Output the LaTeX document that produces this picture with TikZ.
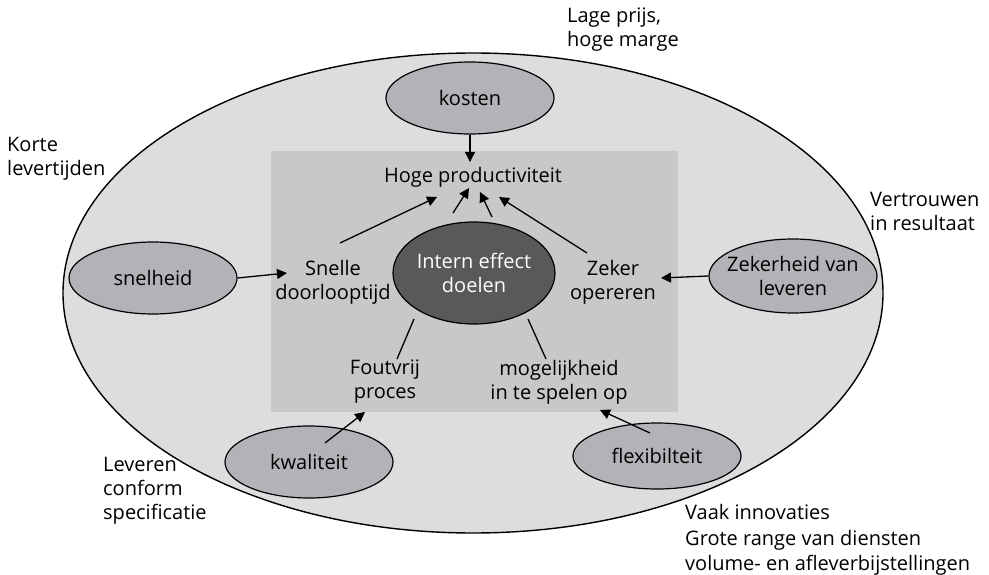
\documentclass[tikz,border=0pt]{standalone}
\usepackage{fontspec}
\setmainfont{Open Sans}
\usetikzlibrary{shapes.geometric,arrows.meta}

\definecolor{outerfill}{HTML}{DCDDDF}
\definecolor{boxfill}{HTML}{C7C8CA}
\definecolor{aimfill}{HTML}{B1B3B6}
\definecolor{corefill}{HTML}{58595B}

\tikzset{
  base/.style={font=\fontsize{20}{24}\selectfont, text=black},
  world/.style={ellipse, draw=black, line width=1.4pt, fill=outerfill, inner sep=0pt},
  aim/.style={ellipse, draw=black, line width=1.2pt, fill=aimfill, inner sep=0pt,
    minimum width=168pt, minimum height=72pt, base, align=center},
  core/.style={ellipse, draw=black, line width=1.2pt, fill=corefill, inner sep=0pt,
    minimum width=162pt, minimum height=102pt, base, text=white, align=center},
  effect/.style={base, align=center, inner sep=0pt},
  remark/.style={base, align=left, anchor=west, inner sep=0pt},
  link/.style={line width=1.3pt, draw=black},
  arrow/.style={link, -{Triangle[length=10pt,width=10pt]}},
}

\begin{document}
\begin{tikzpicture}[x=1pt,y=-1pt]
\useasboundingbox (0,0) rectangle (989,575);
\fill[white] (0,0) rectangle (989,575);

% outer field and inner block
\node[world, minimum width=820pt, minimum height=480pt] (field) at (473,293) {};
\fill[boxfill] (271,151) rectangle (678,412);

% performance objectives
\node[aim] (kosten) at (470,98) {kosten};
\node[aim] (snelheid) at (153,278) {snelheid};
\node[aim, minimum height=74pt, inner xsep=-12pt, inner ysep=-4pt] (zekerheid) at (793,276) {Zekerheid van\\leveren};
\node[aim] (kwaliteit) at (309,462) {kwaliteit};
\node[aim, minimum height=66pt] (flex) at (657,456) {flexibilteit};

% internal effects
\node[core, inner xsep=-6pt] (intern) at (474,273) {Intern effect\\doelen};
\node[effect] (hoge) at (473,177) {Hoge productiviteit};
\node[effect] (snelle) at (333,282) {Snelle\\doorlooptijd};
\node[effect] (zeker) at (613,282) {Zeker\\opereren};
\node[effect] (fout) at (385,382) {Foutvrij\\proces};
\node[effect] (mogelijk) at (559,382) {mogelijkheid\\in te spelen op};

% external remarks
\node[remark] (prijs) at (567,30) {Lage prijs,\\hoge marge};
\node[remark] (korte) at (7,159) {Korte\\levertijden};
\node[remark] (vertrouwen) at (870,211) {Vertrouwen\\in resultaat};
\node[remark] (leveren) at (103,491) {Leveren\\conform\\specificatie};
\node[remark, font=\fontsize{20}{25.5}\selectfont] (vaak) at (685,540) {Vaak innovaties\\Grote range van diensten\\volume- en afleverbijstellingen};

% arrow end points
\coordinate (hk) at (470,162);
\coordinate (h1) at (437,197);
\coordinate (h2) at (469,188);
\coordinate (h3) at (480,192);
\coordinate (h4) at (499,197);
\coordinate (s1) at (340,243);
\coordinate (i1) at (453,213);
\coordinate (i2) at (492,217);
\coordinate (z1) at (587,253);
\coordinate (f1) at (414,319);
\coordinate (f2) at (397,359);
\coordinate (m1) at (528,319);
\coordinate (m2) at (546,359);
\coordinate (sn) at (287,273);
\coordinate (ze) at (661,278);
\coordinate (kw0) at (325,443);
\coordinate (kw) at (365,412);
\coordinate (fl0) at (650,433);
\coordinate (fl) at (600,410);

% connectors
\draw[arrow] (kosten.south) -- (hk);
\draw[arrow] (s1) -- (h1);
\draw[arrow] (i1) -- (h2);
\draw[arrow] (i2) -- (h3);
\draw[arrow] (z1) -- (h4);
\draw[link] (f1) -- (f2);
\draw[link] (m1) -- (m2);
\draw[arrow] (snelheid.east) -- (sn);
\draw[arrow] (zekerheid.west) -- (ze);
\draw[arrow] (kw0) -- (kw);
\draw[arrow] (fl0) -- (fl);
\end{tikzpicture}
\end{document}
